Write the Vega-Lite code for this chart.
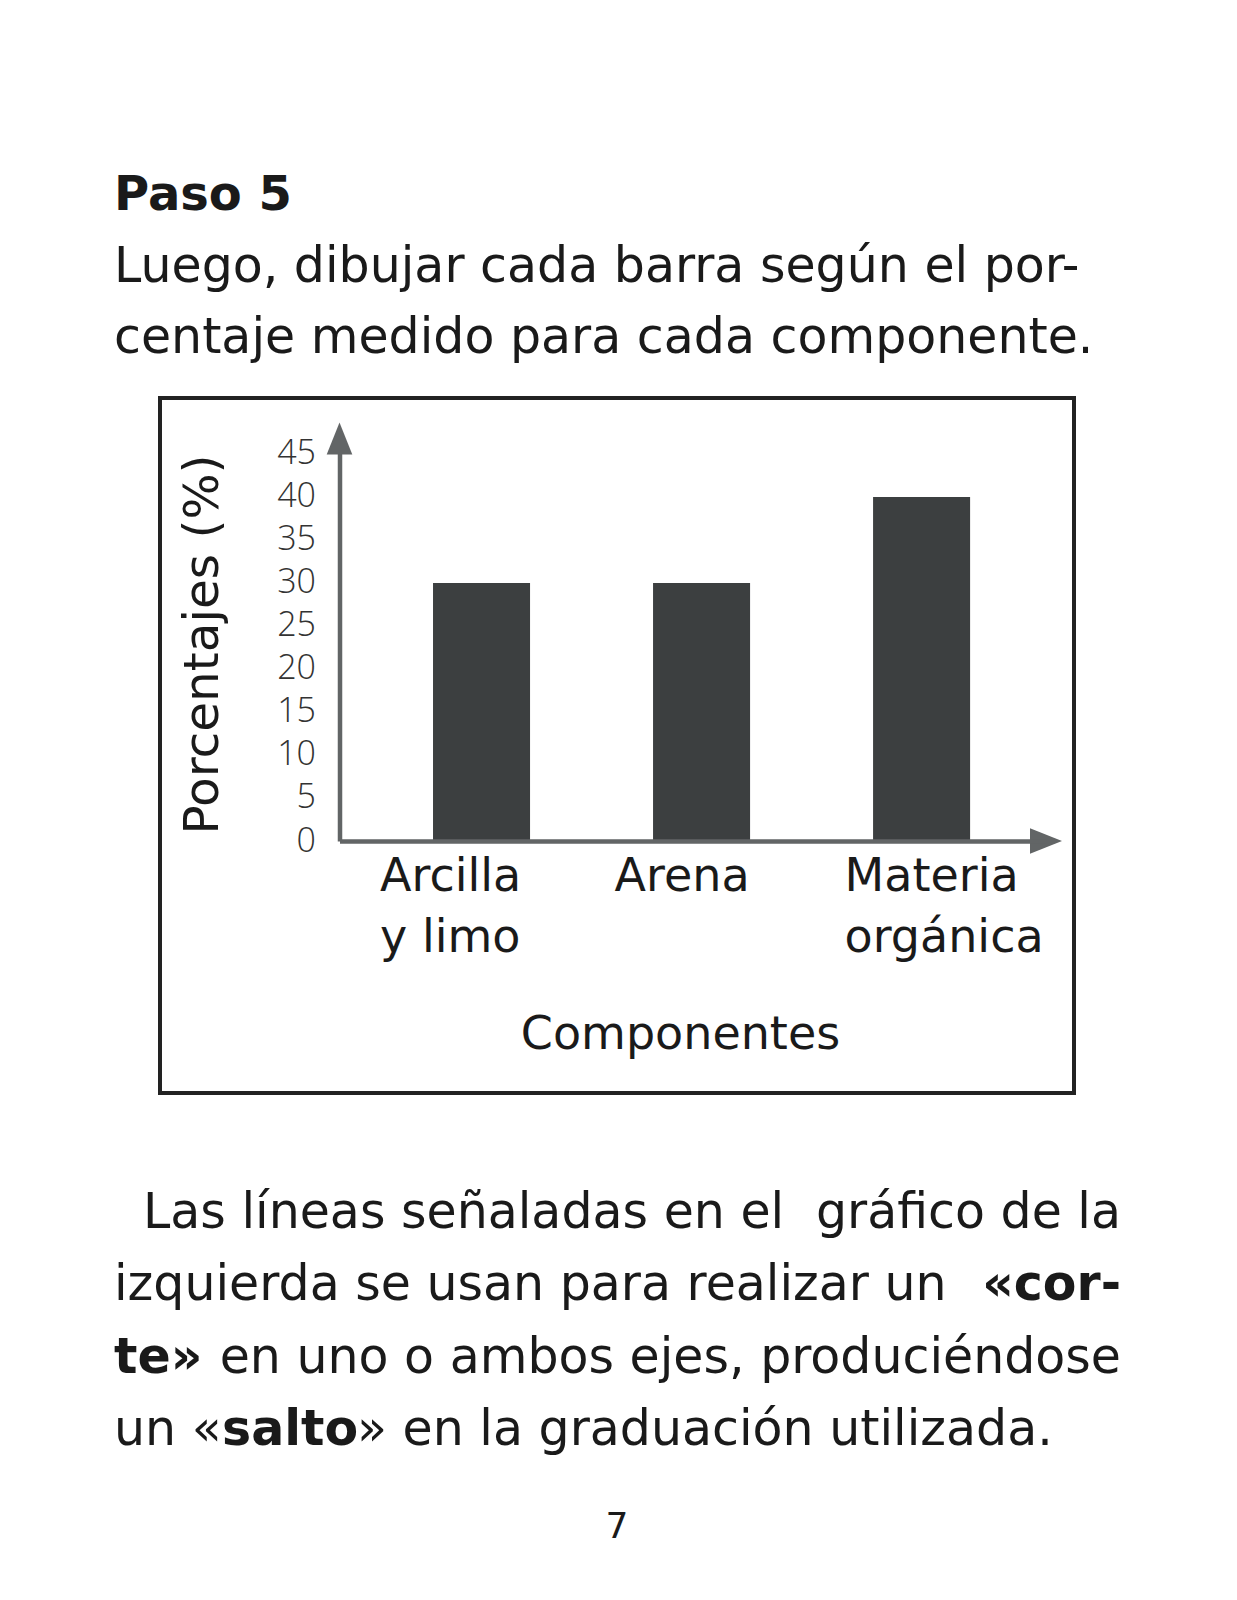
{
  "$schema": "https://vega.github.io/schema/vega-lite/v6.json",
  "background": "white",
  "padding": {"left": 114, "top": 162, "right": 0, "bottom": 0},
  "spacing": 20,
  "config": {"view": {"stroke": null}, "font": "DejaVu Sans"},
  "resolve": {"scale": {"x": "independent", "y": "independent"}},
  "datasets": {
    "componentes": [
      {"componente": "Arcilla y limo", "porcentaje": 30},
      {"componente": "Arena", "porcentaje": 30},
      {"componente": "Materia orgánica", "porcentaje": 40}
    ],
    "encabezado_negrita": [
      {"renglon": 1, "ancla": "inicio", "texto": "Paso 5"}
    ],
    "encabezado": [
      {"renglon": 2, "ancla": "inicio", "texto": "Luego, dibujar cada barra según el por-"},
      {"renglon": 3, "ancla": "inicio", "texto": "centaje medido para cada componente."}
    ],
    "pie_sangria": [
      {"renglon": 1, "ancla": "inicio", "texto": "Las líneas señaladas en el"}
    ],
    "pie": [
      {"renglon": 1, "ancla": "fin", "texto": "gráfico de la"},
      {"renglon": 2, "ancla": "inicio", "texto": "izquierda se usan para realizar un"},
      {"renglon": 3, "ancla": "fin", "texto": "en uno o ambos ejes, produciéndose"},
      {"renglon": 4, "ancla": "inicio", "texto": "un «"}
    ],
    "pie_negrita": [
      {"renglon": 2, "ancla": "fin", "texto": "«cor-"},
      {"renglon": 3, "ancla": "inicio", "texto": "te»"}
    ],
    "pie_salto": [
      {"renglon": 4, "ancla": "inicio", "texto": "salto"}
    ],
    "pie_cierre": [
      {"renglon": 4, "ancla": "inicio", "texto": "» en la graduación utilizada."}
    ]
  },
  "vconcat": [
    {
      "width": 914,
      "height": 214,
      "encoding": {
        "x": {"field": "ancla", "type": "nominal", "scale": {"type": "point", "domain": ["inicio", "centro", "fin"], "range": [-46, 961], "padding": 0}, "axis": null},
        "y": {"field": "renglon", "type": "ordinal", "scale": {"type": "point", "domain": [1, 2, 3], "range": [48, 191], "padding": 0}, "axis": null},
        "text": {"field": "texto"}
      },
      "layer": [
        {"data": {"name": "encabezado_negrita"}, "mark": {"type": "text", "font": "DejaVu Sans", "fontSize": 48, "fontWeight": "bold", "align": "left", "baseline": "alphabetic", "color": "#1a1a1a"}},
        {"data": {"name": "encabezado"}, "mark": {"type": "text", "font": "DejaVu Sans", "fontSize": 49, "align": "left", "baseline": "alphabetic", "color": "#1a1a1a"}}
      ]
    },
    {
      "width": 914,
      "height": 695,
      "view": {"stroke": "#222222", "strokeWidth": 4, "fill": "white"},
      "layer": [
        {
          "data": {"name": "componentes"},
          "mark": {"type": "bar", "color": "#3c3f40"},
          "encoding": {
            "x": {
              "field": "componente", "type": "nominal", "sort": null,
              "scale": {"type": "band", "range": [179.5, 886], "paddingInner": 0.559, "paddingOuter": 0.385, "align": 0.552},
              "axis": {
                "orient": "bottom", "offset": -252, "zindex": 1,
                "title": "Componentes", "titleFont": "DejaVu Sans", "titleFontSize": 46, "titleFontWeight": "normal", "titleColor": "#1a1a1a",
                "titleX": 520, "titleY": 207, "titleAlign": "center", "titleBaseline": "alphabetic",
                "labelExpr": "datum.value === 'Arcilla y limo' ? ['Arcilla', 'y limo'] : datum.value === 'Materia orgánica' ? ['Materia', 'orgánica'] : datum.label",
                "labelFont": "DejaVu Sans", "labelFontSize": 46, "labelColor": "#1a1a1a", "labelAlign": "left", "labelBaseline": "top",
                "labelPadding": 13, "labelLineHeight": 61, "labelAngle": 0, "labelLimit": 0, "labelOverlap": false, "labelFlush": false,
                "labelOffset": {"condition": [{"test": "datum.value === 'Arena'", "value": -87}, {"test": "datum.value === 'Materia orgánica'", "value": -77}], "value": -101.5},
                "ticks": false, "grid": false, "domainColor": "#626566", "domainWidth": 4.5
              }
            },
            "y": {
              "field": "porcentaje", "type": "quantitative",
              "scale": {"domain": [0, 46.5], "range": [443, 43], "nice": false, "zero": true},
              "axis": {
                "orient": "left", "offset": -179.5, "values": [0, 5, 10, 15, 20, 25, 30, 35, 40, 45],
                "title": "Porcentajes (%)", "titleFont": "DejaVu Sans", "titleFontSize": 48.5, "titleFontWeight": "normal", "titleColor": "#1a1a1a",
                "titleX": -122.5, "titleY": 246, "titleAngle": 270, "titleAlign": "center", "titleBaseline": "alphabetic",
                "labelFont": "Open Sans", "labelFontSize": 34, "labelFontWeight": 300, "labelColor": "#333333", "labelPadding": 24,
                "labelOverlap": false, "labelFlush": false,
                "ticks": false, "grid": false, "domainColor": "#626566", "domainWidth": 4.5
              }
            }
          }
        },
        {
          "data": {"values": [{"flecha": "eje vertical"}]},
          "mark": {"type": "point", "shape": "M0,-1L0.8,1L-0.8,1Z", "size": 1024, "filled": true, "color": "#626566", "opacity": 1},
          "encoding": {
            "x": {"value": {"expr": "range('concat_1_x')[0]"}},
            "y": {"datum": 46.8, "type": "quantitative"}
          }
        },
        {
          "data": {"values": [{"flecha": "eje horizontal"}]},
          "mark": {"type": "point", "shape": "M1,0L-1,-0.8L-1,0.8Z", "size": 1024, "filled": true, "color": "#626566", "opacity": 1},
          "encoding": {
            "x": {"value": {"expr": "range('concat_1_x')[1]"}},
            "y": {"datum": 0, "type": "quantitative"}
          }
        }
      ]
    },
    {
      "width": 914,
      "height": 340,
      "title": {"text": "7", "orient": "bottom", "anchor": "middle", "font": "DejaVu Sans", "fontSize": 36, "fontWeight": "normal", "color": "#1a1a1a", "offset": 55},
      "encoding": {
        "x": {"field": "ancla", "type": "nominal", "scale": {"type": "point", "domain": ["inicio", "centro", "fin"], "range": [-46, 961], "padding": 0}, "axis": null},
        "y": {"field": "renglon", "type": "ordinal", "scale": {"type": "point", "domain": [1, 2, 3, 4], "range": [112.5, 330], "padding": 0}, "axis": null},
        "text": {"field": "texto"}
      },
      "layer": [
        {"data": {"name": "pie_sangria"}, "mark": {"type": "text", "font": "DejaVu Sans", "fontSize": 49, "baseline": "alphabetic", "color": "#1a1a1a", "align": "left", "dx": 29}},
        {"data": {"name": "pie"}, "mark": {"type": "text", "font": "DejaVu Sans", "fontSize": 49, "baseline": "alphabetic", "color": "#1a1a1a", "align": {"expr": "datum.ancla === 'fin' ? 'right' : 'left'"}}},
        {"data": {"name": "pie_negrita"}, "mark": {"type": "text", "font": "DejaVu Sans", "fontSize": 49, "fontWeight": "bold", "baseline": "alphabetic", "color": "#1a1a1a", "align": {"expr": "datum.ancla === 'fin' ? 'right' : 'left'"}}},
        {"data": {"name": "pie_salto"}, "mark": {"type": "text", "font": "DejaVu Sans", "fontSize": 49, "fontWeight": "bold", "baseline": "alphabetic", "color": "#1a1a1a", "align": "left", "dx": 108}},
        {"data": {"name": "pie_cierre"}, "mark": {"type": "text", "font": "DejaVu Sans", "fontSize": 49, "baseline": "alphabetic", "color": "#1a1a1a", "align": "left", "dx": 243}}
      ]
    }
  ]
}
